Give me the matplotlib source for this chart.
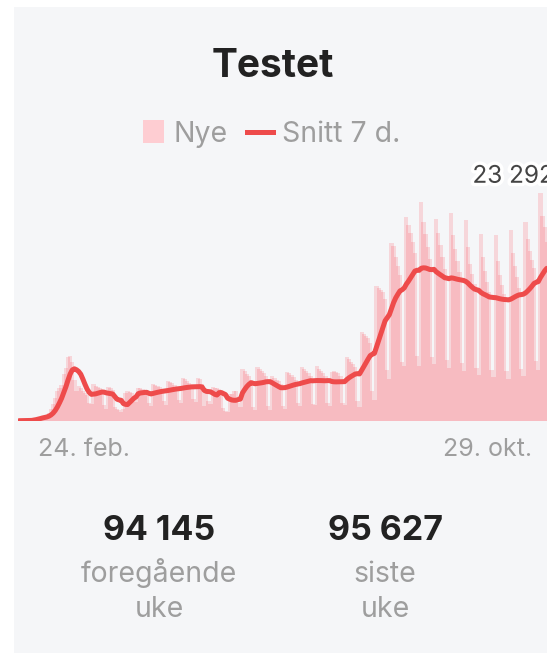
import numpy as np
import pandas as pd
import matplotlib
matplotlib.use('Agg')
import matplotlib.pyplot as plt
from matplotlib.patches import Rectangle
from matplotlib.lines import Line2D
import matplotlib.patheffects as pe

plt.rcParams['font.family'] = ['Inter', 'DejaVu Sans']

# daily number tested, 24 Feb -> 29 Oct, one row per week (Mon..Sun)
nye_weeks = [
    [0, 5, 10, 20, 45, 60, 70],
    [250, 300, 380, 420, 480, 400, 430],
    [800, 1200, 1700, 2300, 3000, 3400, 3700],
    [4800, 5400, 6500, 6600, 6000, 4200, 3000],
    [3600, 3400, 3000, 2800, 2600, 1800, 1700],
    [3750, 3600, 3450, 3300, 3000, 1650, 1200],
    [3500, 3400, 3100, 1400, 1200, 1100, 900],
    [1200, 2800, 3000, 2900, 2800, 2500, 1950],
    [3400, 3300, 3200, 3100, 2900, 1800, 1480],
    [3800, 3700, 3550, 3450, 3200, 2000, 1650],
    [4100, 4000, 3850, 3700, 3450, 2150, 1850],
    [4400, 4250, 4050, 3900, 3650, 2200, 1910],
    [4400, 4320, 3800, 1500, 2900, 2030, 1750],
    [3500, 3400, 3330, 3200, 3000, 1300, 1000],
    [900, 2700, 2740, 3000, 3000, 1800, 1400],
    [5300, 5100, 4830, 4600, 4200, 1380, 1100],
    [5500, 5300, 5100, 4900, 4600, 1500, 1100],
    [4600, 4400, 4200, 4030, 3800, 1500, 1200],
    [5000, 4900, 4700, 4500, 4200, 1800, 1500],
    [5500, 5300, 5100, 4900, 4600, 1700, 1600],
    [5600, 5300, 5050, 4850, 4550, 1800, 1550],
    [5000, 5100, 5000, 4900, 4600, 1800, 1600],
    [6500, 6300, 6000, 5800, 5500, 2000, 1430],
    [9100, 8900, 8700, 8500, 8000, 3000, 2100],
    [13800, 13600, 13400, 13200, 12500, 5200, 4300],
    [18200, 17850, 16800, 15800, 14900, 6000, 5650],
    [20900, 20000, 19200, 18300, 17200, 6600, 5600],
    [22400, 20300, 19100, 17800, 16600, 6500, 5800],
    [20700, 19200, 18000, 16800, 15500, 6200, 5400],
    [21300, 19000, 17600, 16400, 15200, 5900, 5100],
    [20600, 17800, 16000, 15000, 14000, 5400, 4700],
    [19100, 16800, 15300, 14200, 13200, 5200, 4500],
    [19000, 16400, 14900, 13900, 13000, 5100, 4300],
    [19500, 17200, 15800, 14700, 13600, 5300, 4600],
    [20400, 18600, 17400, 16500, 15600, 6100, 5150],
    [23292, 21000, 19800, 18300],
]
nye = np.array([v for week in nye_weeks for v in week], dtype=float)
snitt = pd.Series(nye).rolling(7, min_periods=1).mean().values
days = np.arange(len(nye))

tick_labels = ["24. feb.", "29. okt."]
uke_verdier = [94145, 95627]
uke_tekst = [("foregående", "uke"), ("siste", "uke")]

W, H = 547, 653
BG = '#f5f6f8'
BAR = '#ff3a48'
LINE = '#ee4b4b'
GREY = '#9e9e9e'
DARK = '#222222'


def fx(x):
    return x / W


def fy(y):
    return 1 - y / H


def fmt(v):
    return f"{int(v):,}".replace(",", "\u00a0")


fig = plt.figure(figsize=(W / 100, H / 100), dpi=100, facecolor='white')
fig.patches.append(Rectangle((fx(14), 0), 1, fy(7), transform=fig.transFigure,
                             facecolor=BG, edgecolor='none', zorder=-10))

# plot area: 18 px left, baseline at 420.7 px
ax = fig.add_axes([fx(18), fy(420.7), (len(nye) * 2.128) / W, (420.7 - 160) / H])
ax.set_zorder(2)
ax.set_facecolor('none')
ax.bar(days, nye, width=2.0, color=BAR, alpha=0.17, linewidth=0)
ax.plot(days, snitt, color=LINE, linewidth=3.6, solid_joinstyle='round',
        solid_capstyle='round', zorder=3)
ax.set_xlim(-0.5, len(nye) - 0.5)
ax.set_ylim(0, 26700)
ax.axis('off')

imax = int(np.argmax(nye))
ax.annotate(fmt(nye[imax]), xy=(imax, nye[imax]), xytext=(-68, 17),
            textcoords='offset pixels', ha='left', va='center',
            fontsize=17.5, color='#444444', zorder=5, annotation_clip=False,
            path_effects=[pe.withStroke(linewidth=5, foreground='white')])

# title and legend
fig.text(fx(272.5), fy(77), "Testet", ha='center', va='baseline',
         fontsize=28, fontweight='bold', color=DARK)
fig.patches.append(Rectangle((fx(143), fy(143)), 21 / W, 23 / H,
                             transform=fig.transFigure, facecolor='#fecdd2',
                             edgecolor='none'))
fig.text(fx(173), fy(142), "Nye", ha='left', va='baseline', fontsize=20.5, color=GREY)
fig.lines.append(Line2D([fx(247), fx(273)], [fy(132), fy(132)],
                        transform=fig.transFigure, color=LINE, linewidth=3.6))
fig.text(fx(282), fy(142), "Snitt 7 d.", ha='left', va='baseline', fontsize=20.5, color=GREY)

# x labels (first and last day)
fig.text(fx(38), fy(456.5), tick_labels[0], ha='left', va='baseline', fontsize=18, color=GREY)
fig.text(fx(532), fy(456.5), tick_labels[1], ha='right', va='baseline', fontsize=18, color=GREY)

# weekly totals
for cx, verdi, (l1, l2) in zip([159, 385], uke_verdier, uke_tekst):
    fig.text(fx(cx), fy(540), fmt(verdi), ha='center', va='baseline',
             fontsize=24.5, fontweight='bold', color=DARK)
    fig.text(fx(cx), fy(582), l1, ha='center', va='baseline', fontsize=20.5, color=GREY)
    fig.text(fx(cx), fy(617), l2, ha='center', va='baseline', fontsize=20.5, color=GREY)

fig.savefig('out.png', dpi=100, facecolor='white')
